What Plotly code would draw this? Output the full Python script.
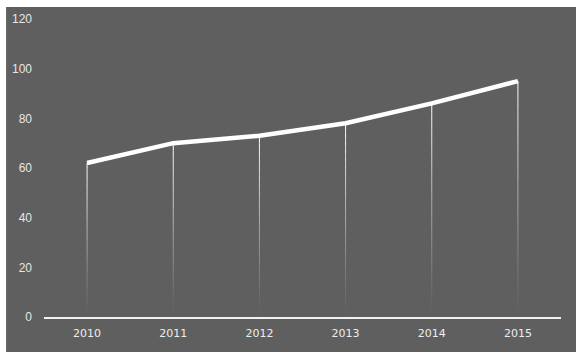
import plotly.graph_objects as go

years = ["2010", "2011", "2012", "2013", "2014", "2015"]
values = [62, 70, 73, 78, 86, 95]
y_ticks = [0, 20, 40, 60, 80, 100, 120]

BG = "#5f5f5f"
W, H = 576, 352
ML, MR, MT, MB = 43, 15, 17, 35
PW, PH = W - ML - MR, H - MT - MB
fig = go.Figure()

# fading drop lines (white at the point, transparent at the axis)
N = 24
for i, v in enumerate(values):
    for k in range(N):
        y0 = v * k / N
        y1 = v * (k + 1) / N
        op = ((k + 1) / N) ** 1.2
        fig.add_shape(type="line", xref="x", yref="y", x0=i, x1=i, y0=y0, y1=y1,
                      line=dict(color=f"rgba(255,255,255,{op:.3f})", width=1), layer="below")

fig.add_trace(go.Scatter(x=years, y=values, mode="lines",
                         line=dict(color="white", width=4.5), hoverinfo="skip"))

# thin white page strips at top/left (5px)
fig.add_shape(type="rect", xref="paper", yref="paper", x0=-1, x1=2,
              y0=1 + (MT - 5) / PH, y1=2, fillcolor="white", line_width=0, layer="above")
fig.add_shape(type="rect", xref="paper", yref="paper", x0=-1, x1=-(ML - 5) / PW,
              y0=-1, y1=2, fillcolor="white", line_width=0, layer="above")

fig.update_layout(
    width=W, height=H,
    margin=dict(l=ML, r=MR, t=MT, b=MB),
    paper_bgcolor=BG, plot_bgcolor=BG,
    showlegend=False,
    xaxis=dict(type="category", range=[-0.5, 5.5], showgrid=False, zeroline=False,
               showline=True, linecolor="#f2f2f2", linewidth=2, ticks="",
               tickfont=dict(family="DejaVu Sans", size=11, color="#ededed"),
               ticklabelstandoff=5),
    yaxis=dict(range=[0, 120], tickvals=y_ticks, showgrid=False, zeroline=False,
               showline=False, ticks="",
               tickfont=dict(family="Liberation Sans", size=12, color="#e6e6e6"),
               ticklabelstandoff=11),
)
fig.write_html("out.html")
